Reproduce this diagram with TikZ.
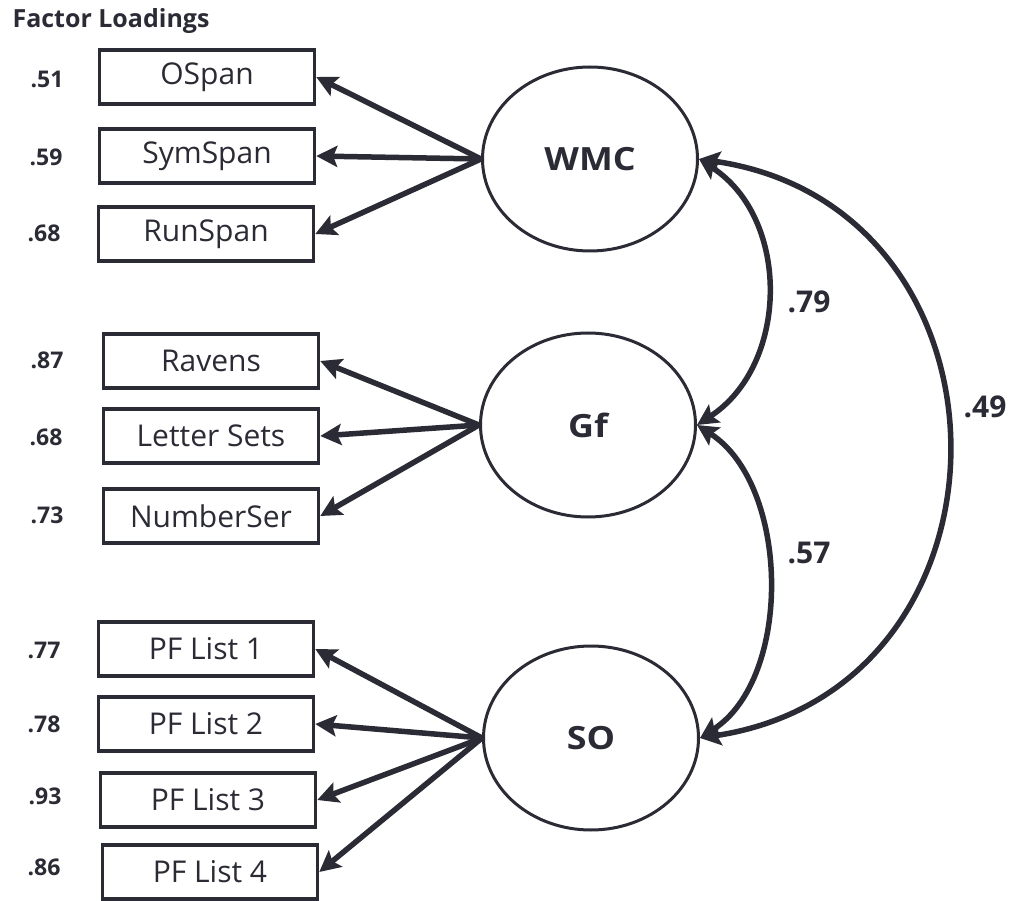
\documentclass[tikz,border=0pt]{standalone}
\usepackage{fontspec}
\setmainfont{Open Sans}
\usetikzlibrary{shapes.geometric,arrows.meta}
\definecolor{ink}{RGB}{43,43,53}
\newcommand{\widebold}[1]{\scalebox{1.12}[1]{\bfseries #1}}
\begin{document}
\begin{tikzpicture}[x=1pt,y=-1pt,
  every node/.style={text=ink},
  indicator/.style={draw=ink,line width=3.5pt,minimum width=215pt,minimum height=54pt,
    inner sep=0pt,font=\fontsize{30}{30}\selectfont},
  latent/.style={draw=ink,ellipse,line width=3pt,minimum width=215pt,minimum height=184pt,
    inner sep=0pt,font=\bfseries\fontsize{32}{32}\selectfont},
  loading/.style={font=\bfseries\fontsize{23}{23}\selectfont},
  corr/.style={font=\bfseries\fontsize{30}{30}\selectfont},
  path/.style={draw=ink,line width=5.5pt,-{Stealth[length=21pt,width=21pt,inset=4pt]}},
  cov/.style={draw=ink,line width=5.5pt,{Stealth[length=21pt,width=21pt,inset=4pt]}-{Stealth[length=21pt,width=21pt,inset=4pt]}}]
\useasboundingbox (0,0) rectangle (1010,901);

\node[anchor=west,font=\bfseries\fontsize{25}{25}\selectfont] (title) at (9,21) {Factor Loadings};

% latent factors
\node[latent] (wmc) at (590,159) {\widebold{WMC}};
\node[latent] (gf)  at (588,425) {\widebold{Gf}};
\node[latent] (so)  at (591,738) {\widebold{SO}};

% indicators
\node[indicator] (ospan)   at (207,77)  {OSpan};
\node[indicator] (symspan) at (207,156) {SymSpan};
\node[indicator] (runspan) at (206,234) {RunSpan};
\node[indicator] (ravens)  at (211,361) {Ravens};
\node[indicator] (letter)  at (211,436) {Letter Sets};
\node[indicator] (number)  at (211,516) {NumberSer};
\node[indicator] (pf1)     at (206,649) {PF List 1};
\node[indicator] (pf2)     at (206,724) {PF List 2};
\node[indicator] (pf3)     at (208,800) {PF List 3};
\node[indicator] (pf4)     at (210,872) {PF List 4};

% loading values
\node[loading] (l1)  at (47,79)  {.51};
\node[loading] (l2)  at (46,157) {.59};
\node[loading] (l3)  at (44,233) {.68};
\node[loading] (l4)  at (47,360) {.87};
\node[loading] (l5)  at (46,437) {.68};
\node[loading] (l6)  at (47,515) {.73};
\node[loading] (l7)  at (44,650) {.77};
\node[loading] (l8)  at (44,724) {.78};
\node[loading] (l9)  at (45,796) {.93};
\node[loading] (l10) at (44,867) {.86};

% factor loadings
\foreach \t in {ospan,symspan,runspan} \draw[path] (wmc.west) -- (\t.east);
\foreach \t in {ravens,letter,number} \draw[path] (gf.west) -- (\t.east);
\foreach \t in {pf1,pf2,pf3,pf4} \draw[path] (so.west) -- (\t.east);

% factor correlations
\draw[cov] (wmc.east) .. controls +(92,60) and +(92,-60) .. (gf.east);
\draw[cov] (gf.east) .. controls +(93,60) and +(93,-60) .. (so.east);
\draw[cov] (wmc.east) .. controls +(330,48) and +(330,-50) .. (so.east);

\node[corr] (c1) at (809,302) {.79};
\node[corr] (c2) at (809,553) {.57};
\node[corr] (c3) at (985,407) {.49};
\end{tikzpicture}
\end{document}
